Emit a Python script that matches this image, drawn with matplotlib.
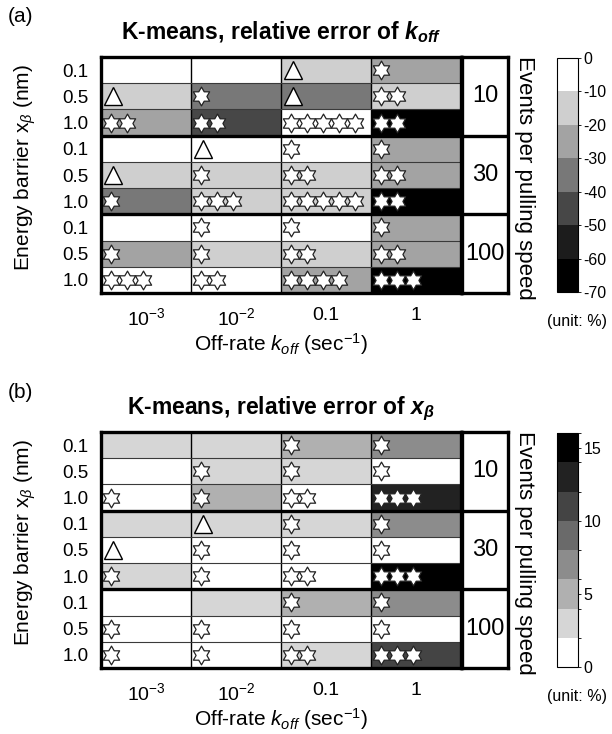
import numpy as np
import matplotlib.pyplot as plt
from matplotlib.colors import ListedColormap, BoundaryNorm
from matplotlib.cm import ScalarMappable
from matplotlib.path import Path

plt.rcParams['font.family'] = 'Liberation Sans'
plt.rcParams['axes.unicode_minus'] = False
plt.rcParams['mathtext.fontset'] = 'custom'
plt.rcParams['mathtext.rm'] = 'Liberation Sans'
plt.rcParams['mathtext.it'] = 'Liberation Sans:italic'
plt.rcParams['mathtext.bf'] = 'Liberation Sans:bold'
plt.rcParams['mathtext.bfit'] = 'Liberation Sans:italic:bold'

# grid: rows = (events, x_beta), columns = k_off
koff_labels = ['10$^{-3}$', '10$^{-2}$', '0.1', '1']
xb_labels = ['0.1', '0.5', '1.0'] * 3
event_labels = ['10', '30', '100']

# relative error of k_off (%)
err_koff = np.array([
    [-5, -5, -15, -25],
    [-15, -35, -35, -15],
    [-25, -45, -5, -65],
    [-5, -5, -5, -25],
    [-15, -15, -15, -25],
    [-35, -15, -15, -65],
    [-5, -5, -5, -25],
    [-25, -15, -15, -25],
    [-5, -5, -25, -65],
])

# relative error of x_beta (%)
err_xb = np.array([
    [3, 3, 5, 7],
    [1, 3, 3, 1],
    [1, 5, 1, 13],
    [3, 3, 3, 7],
    [1, 1, 1, 1],
    [3, 1, 1, 15],
    [1, 3, 5, 7],
    [1, 1, 1, 1],
    [1, 1, 3, 11],
])

# significance marks: 't' = triangle, n = number of stars
marks_koff = [
    [0, 0, 't', 1],
    ['t', 1, 't', 2],
    [2, 2, 5, 2],
    [0, 't', 1, 1],
    ['t', 1, 2, 2],
    [1, 3, 5, 2],
    [0, 1, 1, 1],
    [1, 1, 2, 2],
    [3, 2, 4, 3],
]
marks_xb = [
    [0, 0, 1, 1],
    [0, 1, 1, 1],
    [1, 1, 2, 3],
    [0, 't', 1, 1],
    ['t', 1, 1, 1],
    [1, 1, 2, 3],
    [0, 0, 1, 1],
    [1, 1, 1, 1],
    [1, 1, 2, 3],
]

koff_bounds = [-70, -60, -50, -40, -30, -20, -10, 0]
koff_colors = ['#000000', '#1c1c1c', '#474747', '#787878', '#a3a3a3', '#cfcfcf', '#ffffff']
xb_bounds = [0, 2, 4, 6, 8, 10, 12, 14, 16]
xb_colors = ['#ffffff', '#d6d6d6', '#b0b0b0', '#8c8c8c', '#6a6a6a', '#444444', '#222222', '#000000']

# six-pointed star
ang = np.deg2rad(90 + 30 * np.arange(12))
rad = np.where(np.arange(12) % 2 == 0, 1.0, 1 / np.sqrt(3))
star_verts = np.column_stack([rad * np.cos(ang), rad * np.sin(ang)])
star_verts = np.vstack([star_verts, star_verts[:1]])
hexagram = Path(star_verts, closed=True)

W, H = 612, 734
fig = plt.figure(figsize=(W / 100, H / 100), dpi=100)


def box(x, y, w, h):
    # pixel box (top-left origin) -> figure fraction
    return [x / W, 1 - (y + h) / H, w / W, h / H]


def draw_panel(top, values, marks, bounds, colors, cticks, title, letter):
    cmap = ListedColormap(colors)
    norm = BoundaryNorm(bounds, cmap.N)

    ax = fig.add_axes(box(101, top, 360, 236))
    ax.pcolormesh(np.arange(5), np.arange(10), values, cmap=cmap, norm=norm)
    ax.set_xlim(0, 4)
    ax.set_ylim(9, 0)
    for c in range(1, 4):
        ax.axvline(c, color='k', lw=1.0)
    for r in range(1, 9):
        if r % 3 == 0:
            ax.axhline(r, color='k', lw=2.4)
        else:
            ax.axhline(r, color='#3a3a3a', lw=0.8)
    for s in ax.spines.values():
        s.set_linewidth(2.4)

    for r in range(9):
        for c in range(4):
            m = marks[r][c]
            if m == 't':
                ax.plot(c + 0.13, r + 0.5, marker='^', ms=12.5, mfc='white', mec='k', mew=1.0)
            elif m > 0:
                xs = c + 0.115 + 0.178 * np.arange(m)
                ax.plot(xs, np.full(m, r + 0.5), ls='none', marker=hexagram, ms=13.5,
                        mfc='white', mec='#222222', mew=0.9)

    ax.set_xticks(np.arange(4) + 0.5, koff_labels, fontsize=14)
    ax.set_yticks(np.arange(9) + 0.5, xb_labels, fontsize=13.5)
    ax.tick_params(length=0, pad=10)
    ax.tick_params(axis='y', pad=9)
    ax.set_xlabel('Off-rate $k_{off}$ (sec$^{-1}$)', fontsize=15, labelpad=2)
    ax.set_ylabel(r'Energy barrier x$_{\beta}$ (nm)', fontsize=15)
    ax.yaxis.set_label_coords(-0.175, 0.53)
    ax.set_title(title, fontsize=16.5, fontweight='bold', pad=13)

    # events per pulling speed
    ev = fig.add_axes(box(462, top, 46, 236))
    ev.set_xlim(0, 1)
    ev.set_ylim(9, 0)
    ev.set_xticks([])
    ev.set_yticks([])
    for s in ev.spines.values():
        s.set_linewidth(2.4)
    for r in (3, 6):
        ev.axhline(r, color='k', lw=2.4)
    for i, lab in enumerate(event_labels):
        ev.text(0.5, 3 * i + 1.5, lab, ha='center', va='center', fontsize=17)
    fig.text(524 / W, 1 - (top + 121) / H, 'Events per pulling speed', rotation=270,
             ha='center', va='center', fontsize=16)

    cax = fig.add_axes(box(557, top + 1, 21, 234))
    cb = fig.colorbar(ScalarMappable(norm=norm, cmap=cmap), cax=cax, ticks=cticks)
    cb.outline.set_linewidth(0.8)
    cax.tick_params(labelsize=11.5, length=2, width=0.6, pad=2)
    fig.text(577 / W, 1 - (top + 265) / H, '(unit: %)', ha='center', va='center', fontsize=11.5)

    fig.text(8 / W, 1 - (top - 40) / H, letter, ha='left', va='center', fontsize=15)


draw_panel(57, err_koff, marks_koff, koff_bounds, koff_colors,
           [0, -10, -20, -30, -40, -50, -60, -70],
           r'K-means, relative error of $\mathbfit{k}_{\mathbfit{off}}$', '(a)')
draw_panel(432, err_xb, marks_xb, xb_bounds, xb_colors,
           [0, 5, 10, 15],
           r'K-means, relative error of $\mathbfit{x}_{\mathbfit{\beta}}$', '(b)')

fig.savefig('out.png', dpi=100)
